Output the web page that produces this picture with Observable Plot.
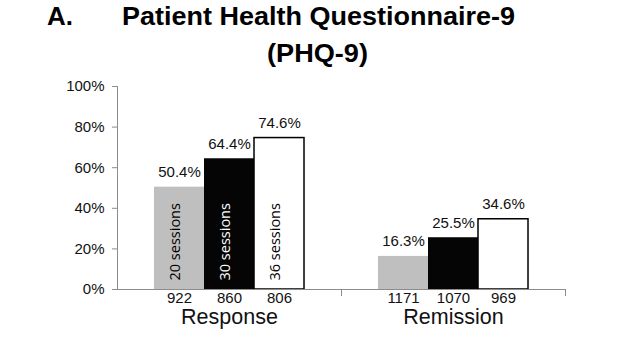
<!DOCTYPE html>
<html>
<head>
<meta charset="utf-8">
<script src="https://cdn.jsdelivr.net/npm/d3@7"></script>
<script src="https://cdn.jsdelivr.net/npm/@observablehq/plot@0.6"></script>
<style>
  html, body { margin: 0; padding: 0; background: #fff; }
  #wrap { position: relative; width: 640px; height: 360px; overflow: hidden; font-family: "Liberation Sans", Arial, sans-serif; }
  #head { display: block; }
  #head text { font-family: "Liberation Sans", Arial, sans-serif; font-weight: bold; font-size: 26.5px; fill: #000; }
  #chart svg { display: block; }
</style>
</head>
<body>
<div id="wrap">
  <svg id="head" width="640" height="70" role="heading" aria-label="A. Patient Health Questionnaire-9 (PHQ-9)">
    <text x="47" y="24.5" textLength="26" lengthAdjust="spacingAndGlyphs">A.</text>
    <text x="122" y="24.5" textLength="393" lengthAdjust="spacingAndGlyphs">Patient Health Questionnaire-9</text>
    <text x="267" y="62" textLength="101" lengthAdjust="spacingAndGlyphs">(PHQ-9)</text>
  </svg>
  <div id="chart"></div>
</div>
<script>
const groups = ["Response", "Remission"];
const sessions = ["20 sessions", "30 sessions", "36 sessions"];
const responseValues = [50.4, 64.4, 74.6];
const remissionValues = [16.3, 25.5, 34.6];
const responseN = [922, 860, 806];
const remissionN = [1171, 1070, 969];
const yTicks = [0, 20, 40, 60, 80, 100];

const data = [];
sessions.forEach((s, i) => data.push({group: "Response", session: s, value: responseValues[i], n: responseN[i]}));
sessions.forEach((s, i) => data.push({group: "Remission", session: s, value: remissionValues[i], n: remissionN[i]}));

const axisGray = "#8c8c8c";

const chart = Plot.plot({
  width: 640,
  height: 290,
  marginLeft: 117,
  marginRight: 75,
  marginTop: 16,
  marginBottom: 71,
  style: {fontFamily: "'Liberation Sans', Arial, sans-serif", fontSize: "15px", background: "#fff", color: "#111"},
  fx: {domain: groups, padding: 0, axis: null},
  x: {domain: sessions, paddingInner: 0, paddingOuter: 0.7, axis: null},
  y: {domain: [0, 100]},
  color: {domain: sessions, range: ["#bfbfbf", "#050505", "#ffffff"]},
  marks: [
    Plot.axisY({ticks: yTicks, tickSize: 5, label: null, stroke: axisGray, fill: "none"}),
    Plot.text(yTicks, {fx: yTicks.map(() => groups[0]), y: d => d, text: d => d + "%", frameAnchor: "left", textAnchor: "end", dx: -13, fontSize: 15, fill: "#111"}),
    Plot.frame({anchor: "left", fx: [groups[0]], stroke: axisGray}),
    Plot.frame({anchor: "right", stroke: axisGray, insetTop: 203, insetBottom: -6}),
    Plot.barY(data, {fx: "group", x: "session", y: "value", fill: "session",
      stroke: d => d.session === "36 sessions" ? "#000" : "none", strokeWidth: 1.5}),
    Plot.ruleY([0], {stroke: axisGray}),
    Plot.text(data, {fx: "group", x: "session", y: "value", text: d => d.value.toFixed(1) + "%", dy: -15, fontSize: 15, fill: "#111"}),
    Plot.text(data, {fx: "group", x: "session", text: d => String(d.n), frameAnchor: "bottom", dy: 13, fontSize: 15, fill: "#111"}),
    Plot.text(groups, {fx: d => d, text: d => d, frameAnchor: "bottom", dy: 34, fontSize: 21.5, fill: "#111"}),
    Plot.text(data.filter(d => d.group === "Response"), {fx: "group", x: "session", text: "session", rotate: -90, frameAnchor: "bottom", textAnchor: "start", dy: -9, fontSize: 14.5, fontFamily: "'Open Sans', sans-serif",
      fill: d => d.session === "30 sessions" ? "#fff" : "#000"})
  ]
});
document.getElementById("chart").appendChild(chart);
</script>
</body>
</html>
